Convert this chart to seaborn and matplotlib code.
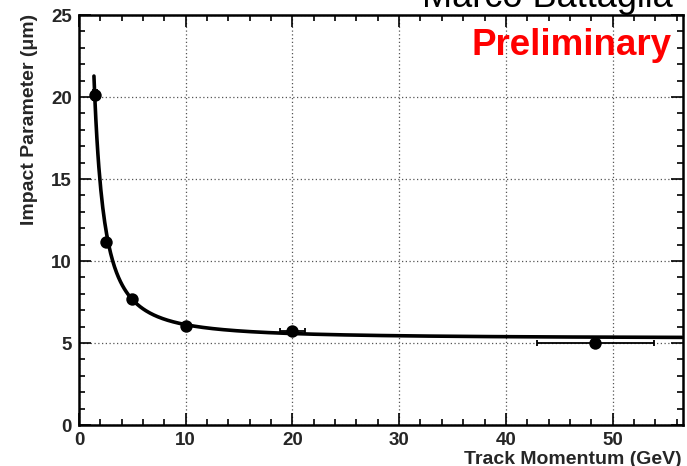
import numpy as np
import pandas as pd
import matplotlib
matplotlib.use("Agg")
import matplotlib.pyplot as plt
from matplotlib.ticker import MultipleLocator
import seaborn as sns

# Measured impact-parameter resolution vs track momentum
momentum = [1.5, 2.5, 5.0, 10.0, 20.0, 48.4]          # GeV
impact_param = [20.1, 11.15, 7.66, 6.05, 5.75, 5.02]  # um
momentum_err = [0.0, 0.0, 0.0, 0.0, 1.2, 5.5]
impact_err = [0.3, 0.2, 0.1, 0.1, 0.1, 0.1]

# Fit parameters: sigma = a + b / p^c
fit_a = 5.28
fit_b = 26.5
fit_c = 1.5
fit_range = (1.40, 56.5)

x_ticks = [0, 10, 20, 30, 40, 50]
y_ticks = [0, 5, 10, 15, 20, 25]

sns.set_theme(style="white")
plt.rcParams["font.family"] = ["Liberation Sans", "DejaVu Sans"]

W, H = 687, 466
fig = plt.figure(figsize=(W / 100, H / 100), dpi=100)
ax = fig.add_axes([79 / W, 41 / H, (683 - 79) / W, (425 - 15) / H])

points = pd.DataFrame({"p": momentum, "ip": impact_param})
p_fit = np.linspace(fit_range[0], fit_range[1], 600)
curve = pd.DataFrame({"p": p_fit, "ip": fit_a + fit_b / p_fit ** fit_c})

sns.lineplot(data=curve, x="p", y="ip", ax=ax, color="black", lw=2.6, zorder=3)
ax.errorbar(momentum, impact_param, xerr=momentum_err, yerr=impact_err,
            fmt="none", ecolor="black", elinewidth=1.3, capsize=2.5,
            capthick=1.3, zorder=4)
sns.scatterplot(data=points, x="p", y="ip", ax=ax, color="black", s=80,
                edgecolor="black", linewidth=0, zorder=5)

ax.set_xlim(0, 56.6)
ax.set_ylim(0, 25)
ax.set_xticks(x_ticks)
ax.set_yticks(y_ticks)
ax.xaxis.set_minor_locator(MultipleLocator(2))
ax.yaxis.set_minor_locator(MultipleLocator(1))
ax.tick_params(which="both", direction="in", top=True, right=True,
               bottom=True, left=True, color="black", width=1.2)
ax.tick_params(which="major", length=8.5, labelsize=13.5, pad=5)
ax.tick_params(which="minor", length=4.5)
for lab in ax.get_xticklabels() + ax.get_yticklabels():
    lab.set_fontweight("bold")

ax.grid(True, which="major", color="#555555", linestyle=(0, (1, 2)), lw=0.9)
for side in ax.spines.values():
    side.set_color("black")
    side.set_linewidth(1.8)

ax.set_xlabel("")
ax.set_ylabel("")
fig.text(682 / W, 1 - 451 / H, "Track Momentum (GeV)", ha="right",
         va="top", fontsize=14, fontweight="bold")
fig.text(30 / W, 1 - 119 / H, "Impact Parameter (\u03bcm)", ha="center",
         va="center", rotation=90, fontsize=14, fontweight="bold")

fig.text(672 / W, 1 - 55 / H, "Preliminary", ha="right", va="baseline",
         fontsize=26.5, fontweight="bold", color="red")
fig.text(673 / W, 1 - 7 / H, "Marco Battaglia", ha="right",
         va="baseline", fontsize=26, color="black")

fig.savefig("out.png", dpi=100)
